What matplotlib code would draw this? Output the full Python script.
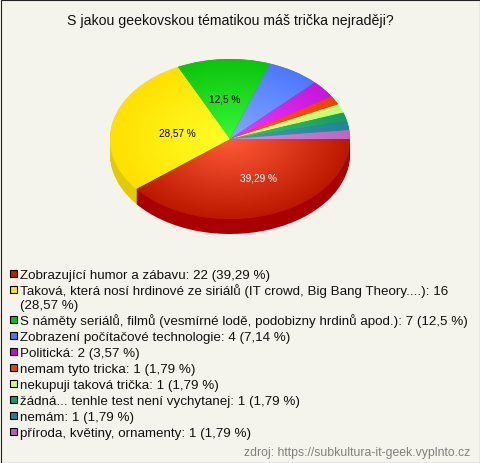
import numpy as np
import matplotlib
matplotlib.use("Agg")
import matplotlib.pyplot as plt
from matplotlib.colors import LinearSegmentedColormap
from matplotlib.patches import Rectangle

title = "S jakou geekovskou tématikou máš trička nejraději?"
source = "zdroj: https://subkultura-it-geek.vyplnto.cz"
categories = [
    "Zobrazující humor a zábavu",
    "Taková, která nosí hrdinové ze siriálů (IT crowd, Big Bang Theory....)",
    "S náměty seriálů, filmů (vesmírné lodě, podobizny hrdinů apod.)",
    "Zobrazení počítačové technologie",
    "Politická",
    "nemam tyto tricka",
    "nekupuji taková trička",
    "žádná... tenhle test není vychytanej",
    "nemám",
    "příroda, květiny, ornamenty",
]
counts = [22, 16, 7, 4, 2, 1, 1, 1, 1, 1]
legend_colors = ["#BB2200", "#FFE400", "#11BB11", "#4477FF", "#C010D0",
                 "#E84400", "#C8FF70", "#119966", "#1F8090", "#B860B8"]
center_colors = ["#FF5A38", "#FFFF28", "#38F838", "#88A8FF", "#F038FF",
                 "#FF5520", "#D8FF88", "#40C080", "#40A0B0", "#E088E0"]
edge_colors = ["#BB1800", "#FFE000", "#0CC40C", "#4C78FF", "#C418D8",
               "#EE4400", "#C0FF70", "#149C64", "#248498", "#C066C0"]
side_colors = ["#A80000", "#E0CC00", "#0A8A0A", "#3050B0", "#900C9C",
               "#A03000", "#90B850", "#0C7048", "#185C68", "#884888"]
BG = "#F5F4EC"
W, H = 480, 464

total = sum(counts)
def pct(v):
    s = f"{100 * v / total:.2f}".rstrip("0").rstrip(".")
    return s.replace(".", ",")

plt.rcParams["font.family"] = ["Liberation Sans", "DejaVu Sans"]
fig = plt.figure(figsize=(W / 100, H / 100), dpi=100, facecolor=BG)

def fx(x): return x / W
def fy(y): return 1 - y / H

# pie: one data unit = 120 px across, 80 px down
cx, cy, rx, ry, depth = 230, 140, 120, 80, 15
lim = 1.25
ax = fig.add_axes([fx(cx - lim * rx), fy(cy + lim * ry), 2 * lim * rx / W, 2 * lim * ry / H])
ax.set_facecolor("none")

for d in range(depth, 0, -1):
    ax.pie(counts, colors=side_colors, startangle=0, counterclock=False,
           center=(0, -d / ry), radius=1, wedgeprops=dict(linewidth=0))

wedges, _ = ax.pie(counts, colors=edge_colors, startangle=0, counterclock=False,
                   center=(0, 0), radius=1, wedgeprops=dict(linewidth=0))

yy, xx = np.mgrid[-1:1:400j, -1:1:400j]
rr = np.clip(np.hypot(xx, yy), 0, 1)
for w, c0, c1 in zip(wedges, center_colors, edge_colors):
    cmap = LinearSegmentedColormap.from_list("g", [c0, c1])
    im = ax.imshow(rr, cmap=cmap, vmin=0, vmax=1, extent=(-1, 1, -1, 1),
                   origin="lower", aspect="auto", interpolation="bilinear", zorder=3)
    im.set_clip_path(w)
ax.set_aspect("auto")
ax.set_xlim(-lim, lim)
ax.set_ylim(-lim, lim)
ax.axis("off")

# slice labels
label_pos = {0: (258.5, 181.5, "white"), 1: (177.5, 136, "black"), 2: (224.5, 103, "black")}
for i, (x, y, col) in label_pos.items():
    fig.text(fx(x), fy(y), f"{pct(counts[i])} %", color=col, fontsize=7.2,
             ha="center", va="baseline")

fig.text(fx(230), fy(25), title, fontsize=10.2, color="#111111", ha="center", va="baseline")

# legend
TEXT_SIZE = 9.65
wrap_idx = 1
y = 279
for i, (cat, n, col) in enumerate(zip(categories, counts, legend_colors)):
    fig.add_artist(Rectangle((fx(9.5), fy(y - 1.5)), 7 / W, 7 / H, transform=fig.transFigure,
                             facecolor=col, edgecolor="black", linewidth=0.8))
    if i == wrap_idx:
        fig.text(fx(20), fy(y), f"{cat}: {n}", fontsize=TEXT_SIZE, color="#111111", va="baseline")
        y += 14
        fig.text(fx(20), fy(y), f"({pct(n)} %)", fontsize=TEXT_SIZE, color="#111111", va="baseline")
    else:
        fig.text(fx(20), fy(y), f"{cat}: {n} ({pct(n)} %)", fontsize=TEXT_SIZE, color="#111111", va="baseline")
    y += 16

fig.text(fx(470), fy(456.5), source, fontsize=8.8, color="#808080", ha="right", va="baseline")

fig.add_artist(Rectangle((0.5 / W, 0.5 / H), (W - 1) / W, (H - 1) / H, transform=fig.transFigure,
                         facecolor="none", edgecolor="#222222", linewidth=0.8))

fig.savefig("out.png", dpi=100, facecolor=BG)
